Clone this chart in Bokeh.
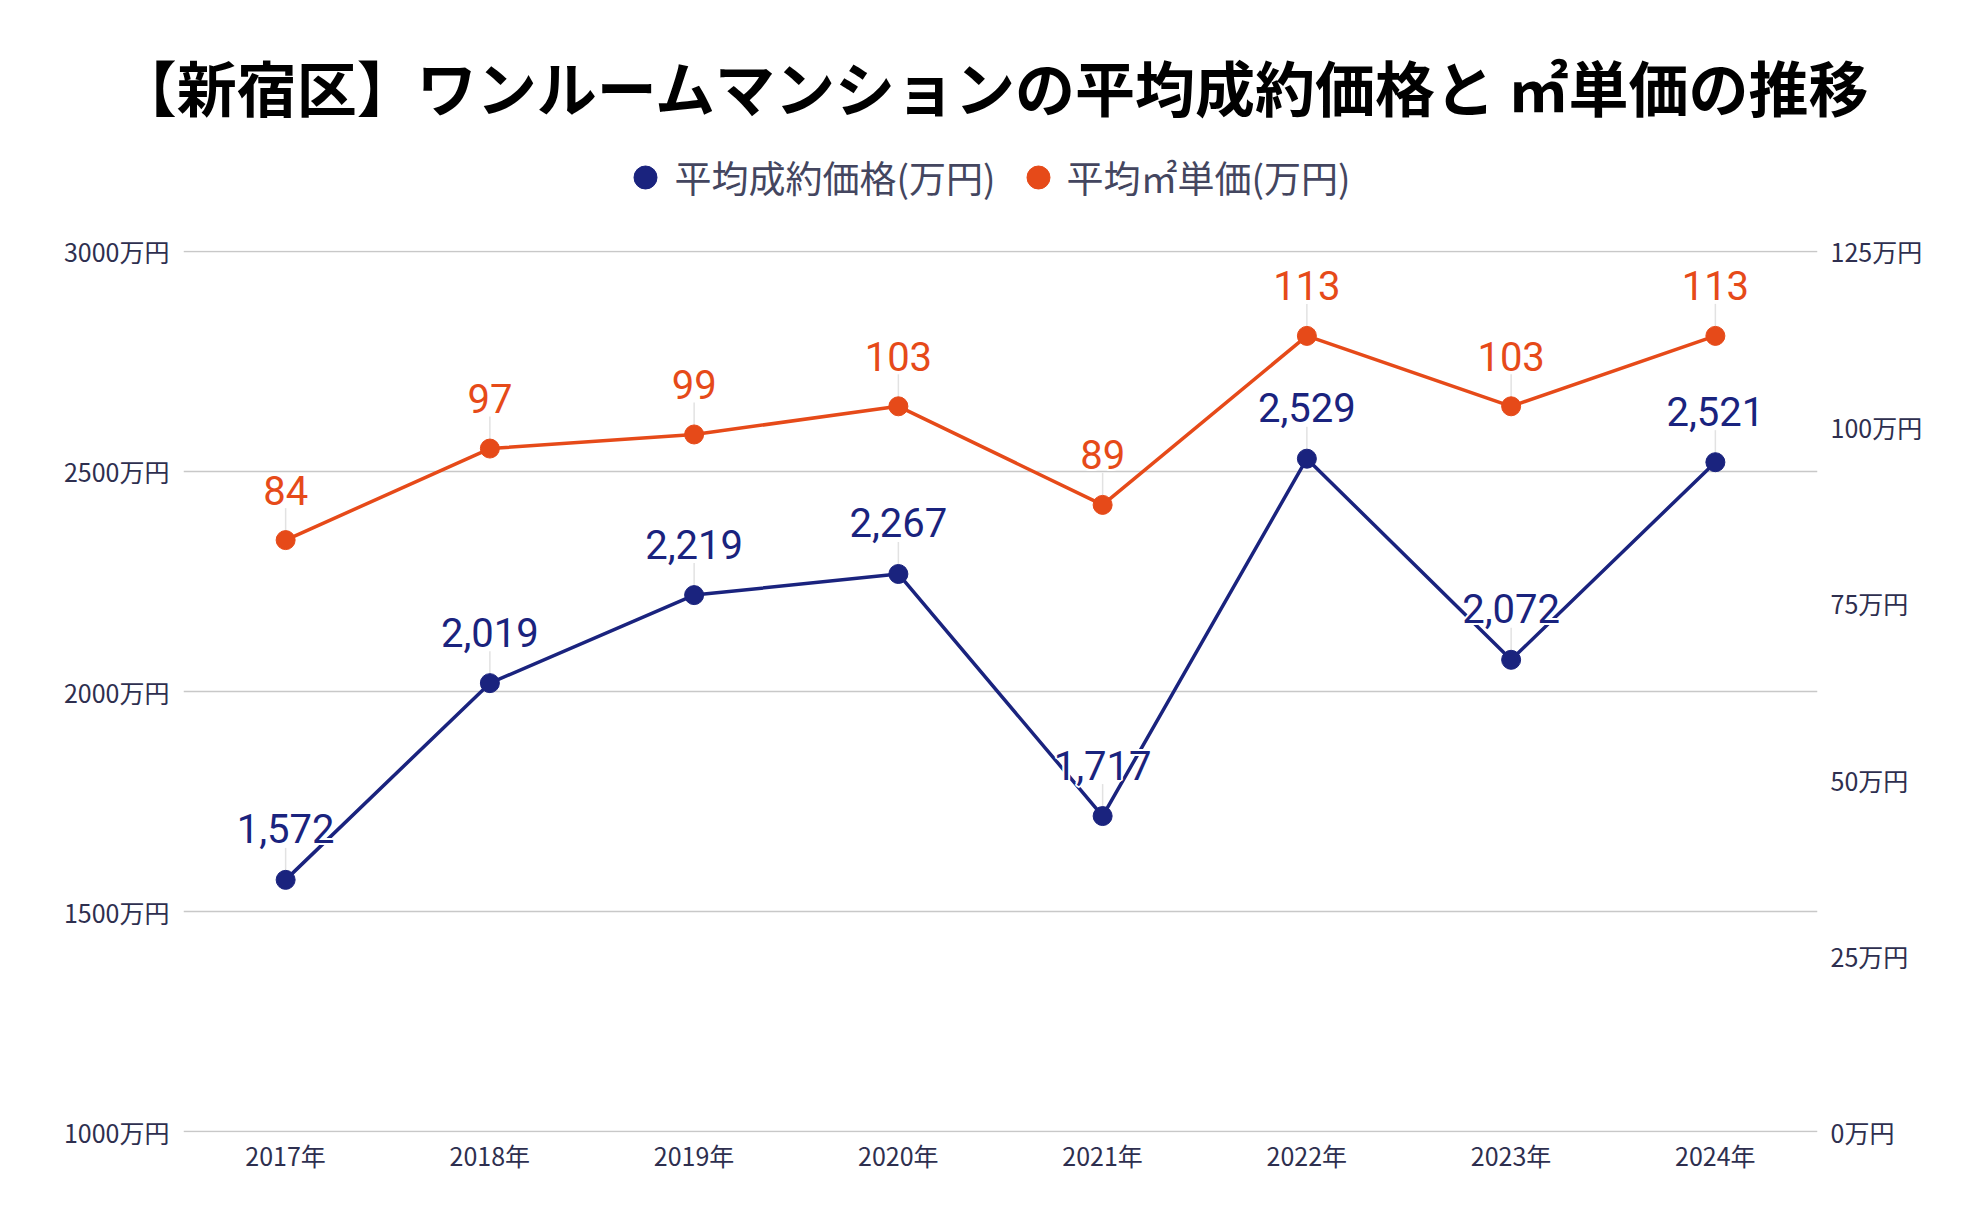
import math
from bokeh.plotting import figure
from bokeh.models import (Range1d, FactorRange, LinearAxis, FixedTicker,
                          PrintfTickFormatter, ColumnDataSource)
from bokeh.core.properties import value
from bokeh.embed import file_html
from bokeh.resources import INLINE

# ---- data ----
years = ["2017年", "2018年", "2019年", "2020年", "2021年", "2022年", "2023年", "2024年"]
avg_price = [1572, 2019, 2219, 2267, 1717, 2529, 2072, 2521]   # 万円
sqm_price = [84, 97, 99, 103, 89, 113, 103, 113]               # 万円 / ㎡
left_ticks = [1000, 1500, 2000, 2500, 3000]
right_ticks = [0, 25, 50, 75, 100, 125]
title_text = "【新宿区】ワンルームマンションの平均成約価格と ㎡単価の推移"
series_names = ["平均成約価格(万円)", "平均㎡単価(万円)"]

NAVY = "#1a237e"
ORANGE = "#e64a19"
AXIS_TXT = "#2e2f4f"
LEGEND_TXT = "#44465f"
CJK = "Noto Sans CJK JP"

W = 1960
HEAD_H = 220
MAIN_H = 980

# ---------------- header (title + legend) ----------------
head = figure(width=W, height=HEAD_H, x_range=Range1d(0, W), y_range=Range1d(0, HEAD_H),
              output_backend="svg", toolbar_location=None,
              min_border=0, min_border_left=0, min_border_right=0,
              min_border_top=0, min_border_bottom=0)
head.axis.visible = False
head.grid.visible = False
head.outline_line_color = None

def sy(y):  # screen-y (from top) -> header data y
    return HEAD_H - y

head.text(x=[993], y=[sy(85)], text=[title_text], text_align="center",
          text_baseline="middle", text_font=value(CJK), text_font_style="bold",
          text_font_size="60px", text_color="#000000")

leg_marker_x = [645, 1038]
leg_text_x = [674, 1066]
head.scatter(x=leg_marker_x, y=[sy(177)] * 2, size=23,
             fill_color=[NAVY, ORANGE], line_color=[NAVY, ORANGE])
head.text(x=leg_text_x, y=[sy(176)] * 2, text=series_names, text_align="left",
          text_baseline="middle", text_font=value(CJK), text_font_size="37px",
          text_color=LEGEND_TXT)

# ---------------- main chart ----------------
lpad = (left_ticks[-1] - left_ticks[0]) / 1000
rpad = (right_ticks[-1] - right_ticks[0]) / 1000
p = figure(width=W, height=MAIN_H,
           x_range=FactorRange(factors=years, range_padding=0),
           y_range=Range1d(left_ticks[0] - lpad, left_ticks[-1] + lpad),
           output_backend="svg", toolbar_location=None,
           min_border_left=183, min_border_right=W - 1817,
           min_border_top=250 - HEAD_H, min_border_bottom=MAIN_H - (1132 - HEAD_H))
p.extra_y_ranges = {"right": Range1d(right_ticks[0] - rpad, right_ticks[-1] + rpad)}
p.outline_line_color = None

p.xaxis.axis_line_color = None
p.xaxis.major_tick_line_color = None
p.xaxis.major_tick_out = 0
p.xaxis.major_label_standoff = 4
p.xaxis.major_label_text_font = CJK
p.xaxis.major_label_text_font_size = "25px"
p.xaxis.major_label_text_color = AXIS_TXT

p.yaxis.ticker = FixedTicker(ticks=left_ticks)
p.yaxis.formatter = PrintfTickFormatter(format="%d万円")
p.yaxis.axis_line_color = None
p.yaxis.major_tick_line_color = None
p.yaxis.minor_tick_line_color = None
p.yaxis.major_tick_out = 0
p.yaxis.major_label_standoff = 14
p.yaxis.major_label_text_font = CJK
p.yaxis.major_label_text_font_size = "25px"
p.yaxis.major_label_text_color = AXIS_TXT

raxis = LinearAxis(y_range_name="right", ticker=FixedTicker(ticks=right_ticks),
                   formatter=PrintfTickFormatter(format="%d万円"))
raxis.axis_line_color = None
raxis.major_tick_line_color = None
raxis.minor_tick_line_color = None
raxis.major_tick_out = 0
raxis.major_label_standoff = 13
raxis.major_label_text_font = CJK
raxis.major_label_text_font_size = "25px"
raxis.major_label_text_color = AXIS_TXT
p.add_layout(raxis, "right")

p.xgrid.grid_line_color = None
p.ygrid.ticker = FixedTicker(ticks=left_ticks)
p.ygrid.grid_line_color = "#c8c8c8"
p.ygrid.grid_line_width = 1.6

src = ColumnDataSource(dict(
    x=years, price=avg_price, sqm=sqm_price,
    price_lbl=[f"{v:,}" for v in avg_price],
    sqm_lbl=[f"{v:,}" for v in sqm_price],
))

p.ray(x="x", y="price", length=32, angle=math.pi / 2, length_units="screen",
      line_color="#e2e2e2", line_width=1.5, source=src)
p.ray(x="x", y="sqm", length=32, angle=math.pi / 2, length_units="screen",
      line_color="#e2e2e2", line_width=1.5, source=src, y_range_name="right")

p.line(x="x", y="price", line_color=NAVY, line_width=3.5, source=src)
p.scatter(x="x", y="price", size=19, fill_color=NAVY, line_color=NAVY, source=src)
p.line(x="x", y="sqm", line_color=ORANGE, line_width=3.5, source=src, y_range_name="right")
p.scatter(x="x", y="sqm", size=19, fill_color=ORANGE, line_color=ORANGE,
          source=src, y_range_name="right")

def labels(ycol, tcol, color, yoff, **kw):
    common = dict(x="x", y=ycol, text=tcol, text_align="center",
                  text_baseline="alphabetic", text_font=value("Roboto"),
                  text_font_size="40px", source=src, **kw)
    for dx, dy in [(-2, 0), (2, 0), (0, -2), (0, 2), (-1.5, -1.5), (1.5, -1.5),
                   (-1.5, 1.5), (1.5, 1.5)]:
        p.text(x_offset=dx, y_offset=yoff + dy, text_color="white", **common)
    p.text(x_offset=0, y_offset=yoff, text_color=color, **common)

labels("price", "price_lbl", NAVY, -51)
labels("sqm", "sqm_lbl", ORANGE, -50, y_range_name="right")

open("out.html", "w").write(file_html([head, p], INLINE))
